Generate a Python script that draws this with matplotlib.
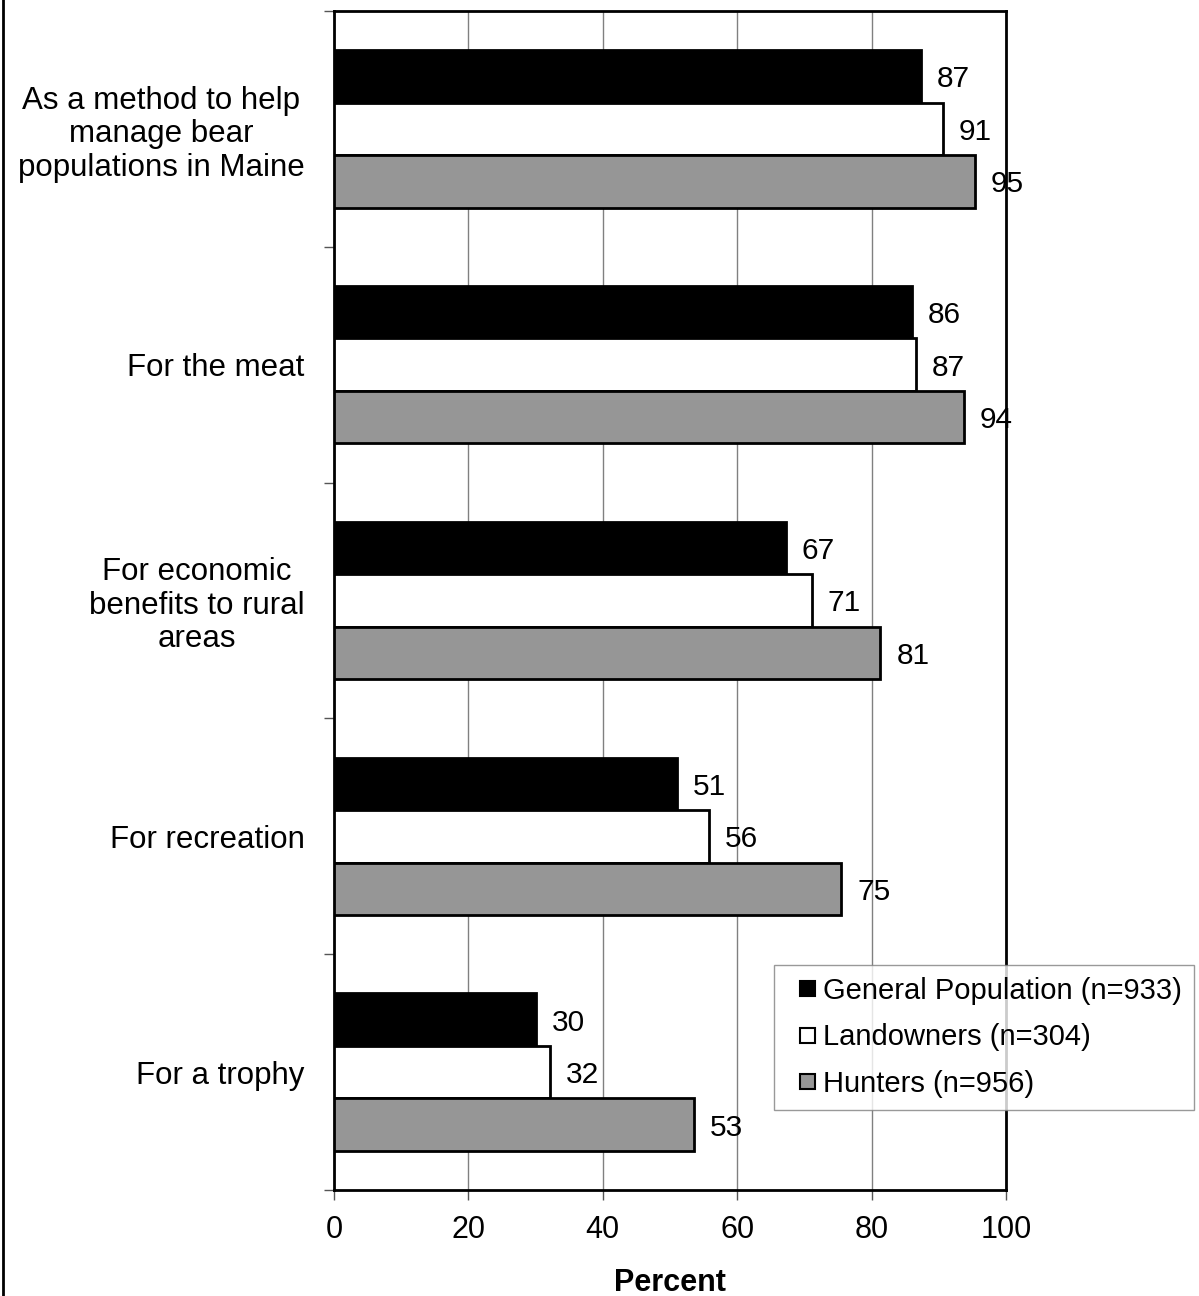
import matplotlib
matplotlib.use("Agg")
import matplotlib.pyplot as plt
from matplotlib.patches import Patch, Rectangle
from matplotlib.lines import Line2D
from matplotlib.legend_handler import HandlerPatch
import numpy as np

plt.rcParams['font.family'] = ['Liberation Sans', 'DejaVu Sans']

categories = [
    "As a method to help\nmanage bear\npopulations in Maine",
    "For the meat",
    "For economic\nbenefits to rural\nareas",
    "For recreation",
    "For a trophy",
]
series_names = ["General Population (n=933)", "Landowners (n=304)", "Hunters (n=956)"]
general = [87.3, 86.0, 67.2, 51.0, 30.0]
landowners = [90.6, 86.6, 71.1, 55.8, 32.1]
hunters = [95.4, 93.7, 81.3, 75.5, 53.5]
general_labels = ["87", "86", "67", "51", "30"]
landowners_labels = ["91", "87", "71", "56", "32"]
hunters_labels = ["95", "94", "81", "75", "53"]
colors = ["#000000", "#ffffff", "#969696"]
xticks = [0, 20, 40, 60, 80, 100]

W, H = 1199, 1296
fig = plt.figure(figsize=(W / 100, H / 100), dpi=100)
ax = fig.add_axes([334 / W, 1 - 1190 / H, (1006 - 334) / W, (1190 - 11) / H])

y = np.arange(len(categories))
bh = 0.2225
for k, (vals, labs, col) in enumerate(zip([general, landowners, hunters],
                                          [general_labels, landowners_labels, hunters_labels],
                                          colors)):
    pos = y + (k - 1) * bh
    ax.barh(pos, vals, height=bh, color=col, edgecolor="black", linewidth=2, zorder=3)
    for p, v, t in zip(pos, vals, labs):
        ax.annotate(t, xy=(v, p), xytext=(11.5, 0), textcoords="offset points",
                    va="center_baseline", ha="left", fontsize=21.5, zorder=5)

ax.set_xlim(0, 100)
ax.set_ylim(len(categories) - 0.5, -0.5)
ax.set_xticks(xticks)
ax.set_xticklabels([str(t) for t in xticks])
ax.xaxis.grid(True, color="#808080", linewidth=1, zorder=0)
ax.set_axisbelow(True)
ax.set_yticks(y)
ax.set_yticklabels(categories, multialignment="center", linespacing=1.15)
ax.set_yticks(np.arange(-0.5, len(categories)), minor=True)
ax.tick_params(axis="y", which="major", length=0, pad=21, labelsize=22.5)
ax.tick_params(axis="y", which="minor", length=7, width=1, color="#555555")
ax.tick_params(axis="x", which="major", length=7, width=1, pad=11, labelsize=22, color="#555555")
for s in ax.spines.values():
    s.set_linewidth(2)
    s.set_color("black")
ax.set_xlabel("Percent", fontsize=22, fontweight="bold")
ax.xaxis.label.set_va("baseline")
ax.xaxis.set_label_coords(0.5, (1190 - 1291) / 1179)


def square_patch(legend, orig_handle, xdescent, ydescent, width, height, fontsize):
    s = 10.8
    return Rectangle((-xdescent + width - s, -ydescent + (height - s) / 2), s, s)


handles = [Patch(facecolor=c, edgecolor="black", linewidth=1.5) for c in colors]
leg = fig.legend(handles, series_names, loc="upper left",
                 bbox_to_anchor=(774 / W, 1 - 965 / H), bbox_transform=fig.transFigure,
                 fontsize=21, frameon=True, fancybox=False, borderaxespad=0,
                 handlelength=1.0, handleheight=0.7, handletextpad=0.28,
                 labelspacing=0.64, borderpad=0.4,
                 handler_map={Patch: HandlerPatch(patch_func=square_patch)})
leg.get_frame().set_edgecolor("#808080")
leg.get_frame().set_linewidth(1)

fig.add_artist(Line2D([2.5 / W, 2.5 / W], [0, 1], transform=fig.transFigure, color="black", linewidth=2))

fig.savefig("out.png", dpi=100, facecolor="white")
